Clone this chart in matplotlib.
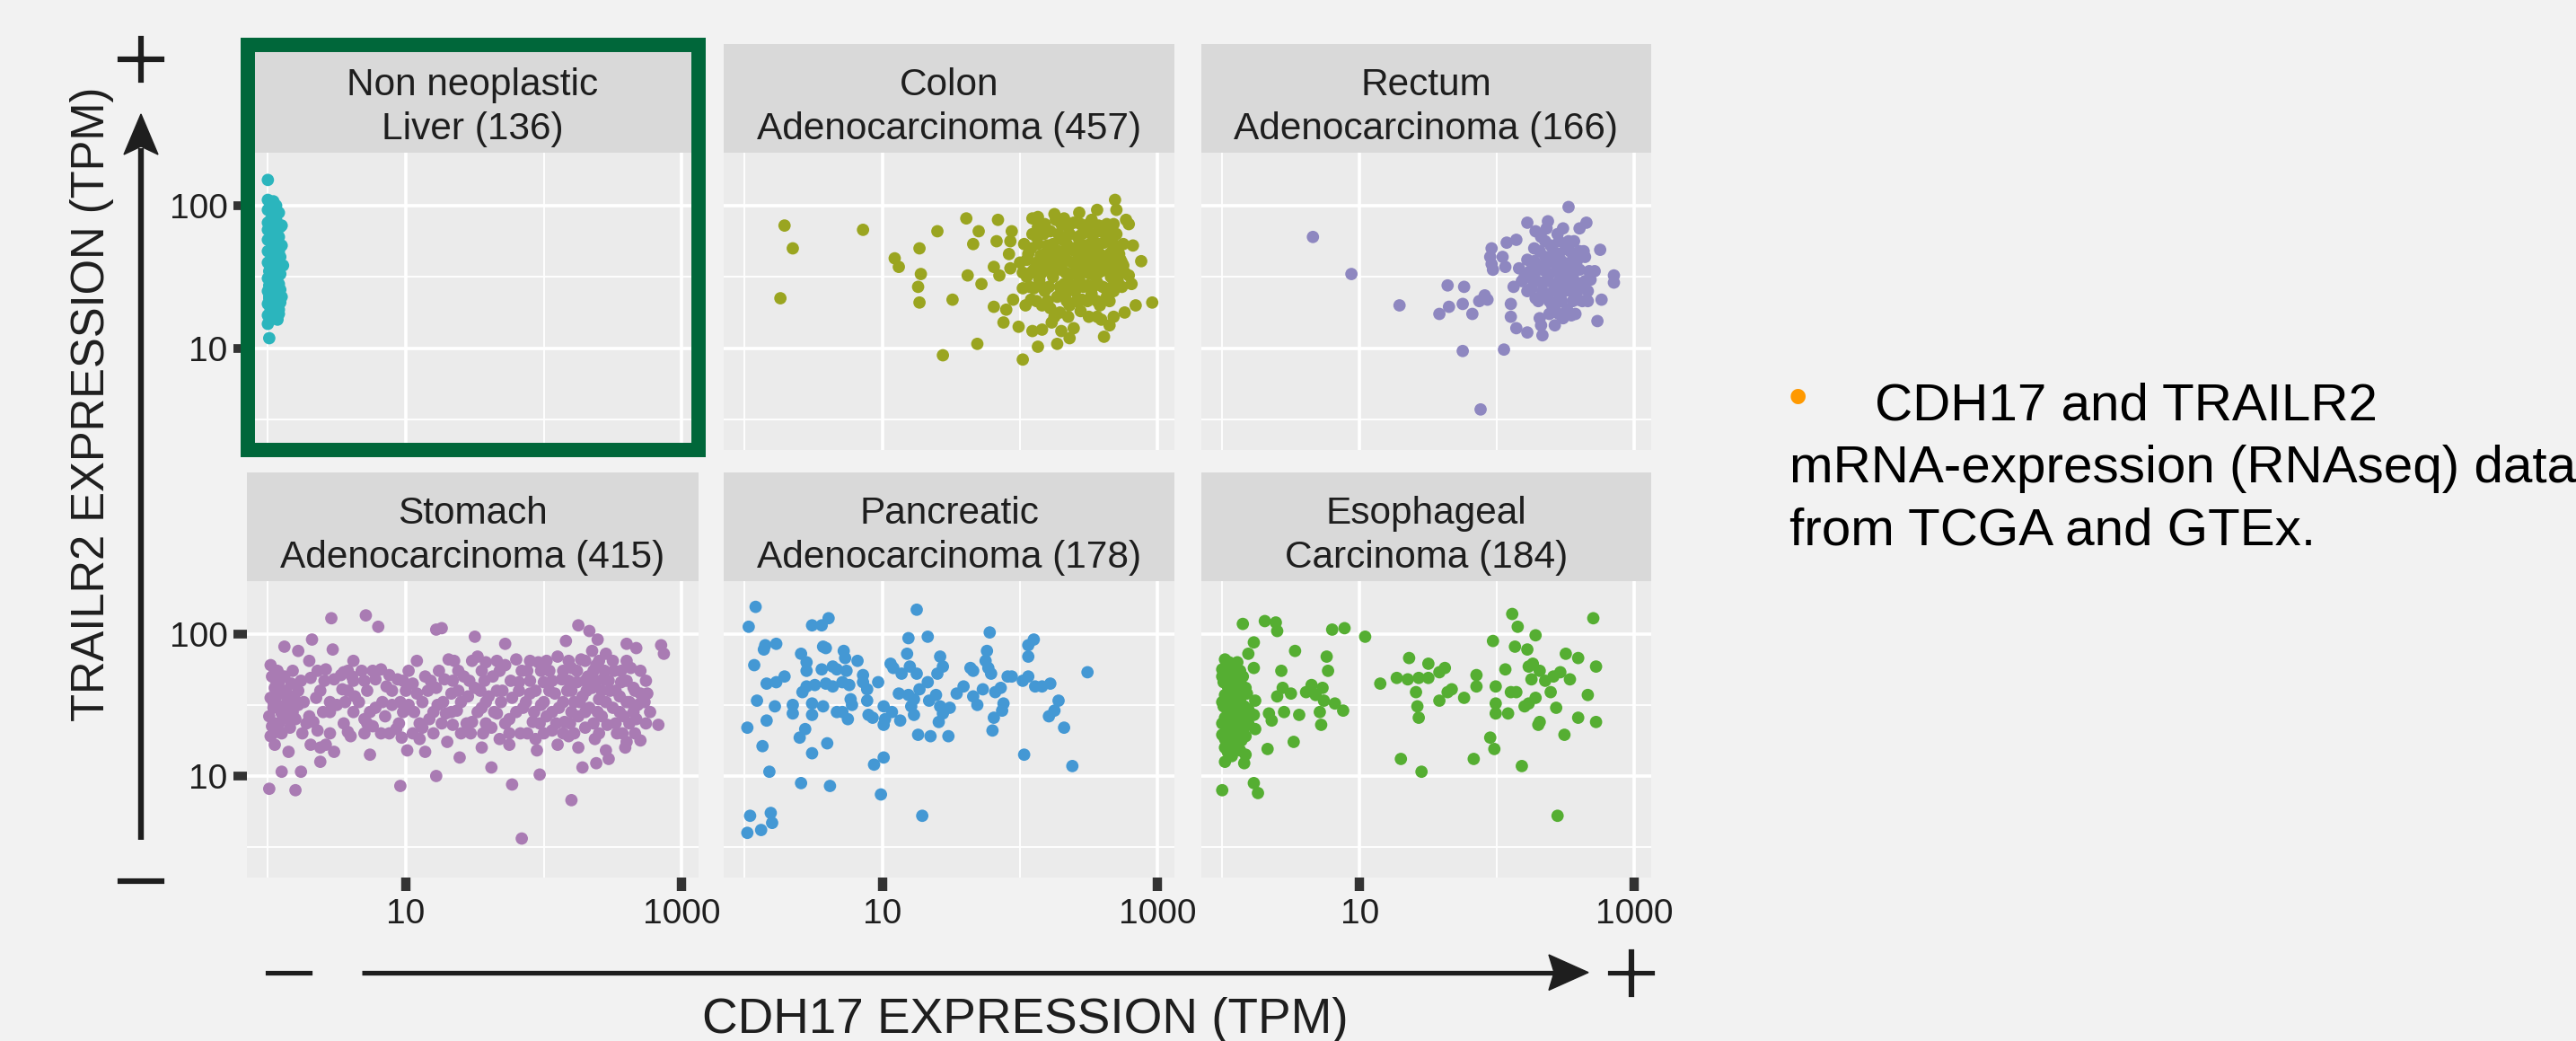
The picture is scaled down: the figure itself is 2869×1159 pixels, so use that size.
import matplotlib

matplotlib.use("Agg")
import matplotlib.pyplot as plt
import matplotlib.patheffects as pe
import numpy as np
from matplotlib.lines import Line2D
from matplotlib.patches import Polygon, Rectangle
from matplotlib.ticker import FixedLocator, FixedFormatter

plt.rcParams["font.family"] = ["Liberation Sans", "DejaVu Sans"]

W, H = 2869, 1159

# values are log10(TPM): (CDH17, TRAILR2)
liver_pts = [
    (0.00, 2.18), (0.00, 2.04), (0.04, 2.03), (0.00, 1.97), (0.04, 1.96), (0.05, 1.93),
    (0.02, 1.90), (0.00, 1.88), (0.09, 1.85), (0.04, 1.87), (0.00, 1.83), (0.06, 1.80),
    (0.05, 1.79), (0.00, 1.76), (0.05, 1.74), (0.03, 1.72), (0.07, 1.70), (0.00, 1.68),
    (0.06, 1.66), (0.03, 1.65), (0.07, 1.63), (0.09, 1.64), (0.02, 1.62), (0.00, 1.60),
    (0.04, 1.58), (0.06, 1.56), (0.01, 1.54), (0.04, 1.53), (0.03, 1.51), (0.00, 1.49),
    (0.04, 1.49), (0.07, 1.46), (0.02, 1.45), (0.01, 1.44), (0.05, 1.42), (0.09, 1.41),
    (0.03, 1.42), (0.00, 1.40), (0.06, 1.38), (0.01, 1.36), (0.04, 1.34), (0.02, 1.33),
    (0.00, 1.31), (0.05, 1.30), (0.06, 1.28), (0.08, 1.27), (0.02, 1.27), (0.03, 1.25),
    (0.08, 1.24), (0.00, 1.23), (0.05, 1.22), (0.02, 1.20), (0.00, 1.17), (0.01, 1.07),
    (0.08, 1.95), (0.10, 1.86), (0.08, 1.78), (0.10, 1.72), (0.08, 1.68), (0.11, 1.58),
    (0.09, 1.52), (0.08, 1.45), (0.10, 1.36), (0.09, 1.32), (0.07, 1.20), (0.06, 1.90),
    (0.07, 1.60), (0.06, 1.50), (0.02, 1.58), (0.04, 1.69), (0.03, 1.78), (0.02, 1.84),
    (0.05, 1.26), (0.03, 1.39), (0.06, 1.34), (0.02, 1.99), (0.06, 2.00), (0.04, 1.47),
    (0.01, 1.35),
]

colon_pts = [
    (0.29, 1.86), (0.35, 1.70), (0.26, 1.35), (0.86, 1.83), (1.09, 1.63), (1.12, 1.57),
    (1.27, 1.70), (1.40, 1.82), (1.28, 1.52), (1.26, 1.43), (1.27, 1.32), (1.51, 1.34),
    (1.61, 1.91), (1.70, 1.82), (1.66, 1.73), (1.62, 1.51), (1.72, 1.45), (1.84, 1.90),
    (1.94, 1.82), (1.83, 1.75), (1.93, 1.75), (1.92, 1.66), (1.81, 1.57), (1.85, 1.51),
    (1.93, 1.56), (1.81, 1.29), (1.90, 1.27), (1.88, 1.18), (1.69, 1.03), (1.44, 0.95),
    (2.02, 0.92), (2.13, 1.01), (2.27, 1.03), (2.36, 1.07), (2.30, 1.12), (2.61, 1.08),
    (2.65, 1.16), (2.68, 1.22), (2.59, 1.20), (2.76, 1.25), (2.84, 1.30), (2.96, 1.32),
    (2.81, 1.45), (2.79, 1.51), (2.88, 1.61), (2.82, 1.72), (2.75, 1.58), (2.79, 1.87),
    (2.69, 2.04), (2.70, 1.97), (2.56, 1.97), (2.43, 1.95), (2.25, 1.94), (2.32, 1.91),
    (2.09, 1.91), (2.13, 1.92), (2.18, 1.87), (1.99, 1.15), (2.09, 1.12), (2.16, 1.13),
    (2.23, 1.18), (2.39, 1.14), (2.02, 1.42), (1.95, 1.34), (2.04, 1.30), (2.08, 1.34),
    (2.73, 1.62), (2.71, 1.68), (2.77, 1.90),
    (2.05, 1.62), (2.08, 1.70), (2.10, 1.55), (2.12, 1.78), (2.14, 1.48), (2.15, 1.65),
    (2.18, 1.40), (2.19, 1.58), (2.20, 1.72), (2.22, 1.82), (2.24, 1.50), (2.25, 1.63),
    (2.27, 1.36), (2.28, 1.68), (2.30, 1.55), (2.31, 1.76), (2.32, 1.45), (2.34, 1.62),
    (2.35, 1.85), (2.36, 1.30), (2.37, 1.52), (2.38, 1.70), (2.40, 1.40), (2.41, 1.60),
    (2.42, 1.78), (2.43, 1.48), (2.44, 1.66), (2.45, 1.34), (2.46, 1.56), (2.47, 1.84),
    (2.48, 1.72), (2.49, 1.44), (2.50, 1.62), (2.51, 1.52), (2.52, 1.38), (2.53, 1.76),
    (2.54, 1.58), (2.55, 1.68), (2.56, 1.46), (2.57, 1.86), (2.58, 1.30), (2.59, 1.54),
    (2.60, 1.64), (2.61, 1.74), (2.62, 1.42), (2.63, 1.36), (2.64, 1.58), (2.65, 1.80),
    (2.66, 1.50), (2.67, 1.68), (2.68, 1.40), (2.70, 1.60), (2.71, 1.47), (2.72, 1.54),
    (2.05, 1.50), (2.10, 1.42), (2.13, 1.85), (2.16, 1.30), (2.22, 1.28), (2.26, 1.90),
    (2.33, 1.38), (2.39, 1.88), (2.29, 1.25), (2.44, 1.26), (2.52, 1.90), (2.58, 1.82),
    (2.35, 1.46), (2.47, 1.58), (2.27, 1.58), (2.40, 1.68), (2.55, 1.50), (2.62, 1.55),
    (2.12, 1.33), (2.20, 1.33), (2.34, 1.33), (2.41, 1.33), (2.49, 1.33), (2.56, 1.33),
    (2.65, 1.33), (2.07, 1.43), (2.16, 1.43), (2.21, 1.43), (2.29, 1.43), (2.38, 1.43),
    (2.46, 1.43), (2.53, 1.43), (2.60, 1.43), (2.67, 1.43), (2.74, 1.43), (2.02, 1.53),
    (2.08, 1.53), (2.16, 1.53), (2.24, 1.53), (2.33, 1.53), (2.42, 1.53), (2.49, 1.53),
    (2.57, 1.53), (2.66, 1.53), (2.76, 1.53), (2.00, 1.60), (2.12, 1.60), (2.22, 1.60),
    (2.31, 1.60), (2.38, 1.60), (2.46, 1.60), (2.53, 1.60), (2.61, 1.60), (2.68, 1.60),
    (2.74, 1.60), (2.06, 1.66), (2.18, 1.66), (2.25, 1.66), (2.32, 1.66), (2.48, 1.66),
    (2.58, 1.66), (2.65, 1.66), (2.72, 1.66), (2.03, 1.73), (2.13, 1.73), (2.24, 1.73),
    (2.34, 1.73), (2.43, 1.73), (2.51, 1.73), (2.57, 1.73), (2.68, 1.73), (2.75, 1.73),
    (2.09, 1.80), (2.17, 1.80), (2.28, 1.80), (2.36, 1.80), (2.45, 1.80), (2.52, 1.80),
    (2.62, 1.80), (2.70, 1.80), (2.16, 1.87), (2.30, 1.87), (2.44, 1.87), (2.50, 1.87),
    (2.63, 1.87), (2.68, 1.87), (2.25, 1.22), (2.35, 1.22), (2.50, 1.22), (2.56, 1.22),
]

rectum_pts = [
    (0.66, 1.78), (0.94, 1.52), (1.29, 1.30), (1.64, 1.44), (1.76, 1.43), (1.65, 1.29),
    (1.58, 1.24), (1.75, 1.31), (1.82, 1.24), (1.87, 1.33), (1.91, 1.37), (1.93, 1.34),
    (1.75, 0.98), (2.05, 0.99), (1.88, 0.57), (2.52, 1.99), (2.22, 1.88), (2.37, 1.89),
    (2.65, 1.88), (2.07, 1.74), (2.14, 1.76), (1.96, 1.70), (1.95, 1.64), (2.04, 1.64),
    (1.96, 1.59), (1.97, 1.55), (2.06, 1.57), (2.75, 1.69), (2.85, 1.51), (2.85, 1.46),
    (2.76, 1.34), (2.73, 1.19), (2.71, 1.54), (2.68, 1.48), (2.64, 1.64), (2.10, 1.31),
    (2.10, 1.22), (2.14, 1.14), (2.22, 1.11), (2.33, 1.09), (2.32, 1.16), (2.42, 1.16),
    (2.48, 1.21), (2.54, 1.23), (2.31, 1.21), (2.12, 1.43), (2.16, 1.56), (2.66, 1.33),
    (2.60, 1.84),
    (2.20, 1.50), (2.22, 1.62), (2.25, 1.42), (2.27, 1.70), (2.28, 1.35), (2.30, 1.55),
    (2.32, 1.78), (2.33, 1.46), (2.35, 1.64), (2.36, 1.38), (2.38, 1.52), (2.39, 1.72),
    (2.40, 1.30), (2.41, 1.60), (2.43, 1.44), (2.44, 1.80), (2.45, 1.66), (2.46, 1.36),
    (2.47, 1.54), (2.49, 1.48), (2.50, 1.70), (2.51, 1.27), (2.52, 1.58), (2.54, 1.40),
    (2.55, 1.62), (2.56, 1.75), (2.58, 1.46), (2.59, 1.34), (2.60, 1.55), (2.62, 1.42),
    (2.63, 1.68), (2.28, 1.82), (2.36, 1.84), (2.44, 1.32), (2.53, 1.50), (2.48, 1.84),
    (2.26, 1.48), (2.57, 1.66), (2.41, 1.40), (2.34, 1.58),
    (2.30, 1.33), (2.38, 1.33), (2.47, 1.33), (2.55, 1.33), (2.62, 1.33), (2.22, 1.40),
    (2.33, 1.40), (2.49, 1.40), (2.58, 1.40), (2.66, 1.40), (2.18, 1.47), (2.29, 1.47),
    (2.37, 1.47), (2.45, 1.47), (2.52, 1.47), (2.64, 1.47), (2.24, 1.54), (2.35, 1.54),
    (2.43, 1.54), (2.57, 1.54), (2.67, 1.54), (2.27, 1.61), (2.38, 1.61), (2.47, 1.61),
    (2.58, 1.61), (2.31, 1.68), (2.41, 1.68), (2.53, 1.68), (2.60, 1.68), (2.35, 1.75),
    (2.45, 1.75), (2.52, 1.75), (2.38, 1.24), (2.45, 1.24), (2.57, 1.24),
]

stomach_pts = [
    (0.46, 2.11), (0.71, 2.13), (0.80, 2.05), (0.12, 1.91), (0.22, 1.88), (0.32, 1.96),
    (0.47, 1.89), (1.22, 2.03), (1.26, 2.04), (1.50, 1.98), (1.72, 1.93), (2.25, 2.06),
    (2.33, 2.02), (2.39, 1.96), (2.16, 1.95), (2.60, 1.93), (2.67, 1.90), (2.85, 1.92),
    (2.87, 1.86), (2.83, 1.36), (2.70, 1.25), (2.75, 1.58), (0.01, 0.91), (0.20, 0.90),
    (0.10, 1.03), (0.24, 1.03), (0.38, 1.10), (0.96, 0.93), (1.22, 1.00), (1.77, 0.94),
    (1.97, 1.01), (2.20, 0.83), (1.84, 0.56), (2.28, 1.06), (2.38, 1.09), (2.47, 1.12),
    (1.62, 1.06), (1.39, 1.13), (0.74, 1.15), (1.14, 1.17), (1.01, 1.18), (0.15, 1.17),
    (0.48, 1.17),
    (0.02, 1.78), (0.03, 1.70), (0.05, 1.62), (0.02, 1.55), (0.04, 1.48), (0.01, 1.42),
    (0.03, 1.35), (0.02, 1.28), (0.07, 1.74), (0.08, 1.66), (0.09, 1.58), (0.07, 1.50),
    (0.10, 1.44), (0.08, 1.37), (0.06, 1.31), (0.12, 1.70), (0.13, 1.60), (0.14, 1.52),
    (0.12, 1.46), (0.15, 1.40), (0.17, 1.65), (0.19, 1.56), (0.18, 1.48), (0.22, 1.50),
    (0.16, 1.34), (0.05, 1.22), (0.20, 1.40), (0.25, 1.30), (0.30, 1.42), (0.33, 1.38),
    (0.36, 1.32), (0.31, 1.22), (0.38, 1.20), (0.42, 1.22), (0.42, 1.75), (0.41, 1.67),
    (0.31, 1.69), (0.48, 1.68), (0.53, 1.71), (0.55, 1.73), (0.61, 1.70), (0.68, 1.74),
    (0.63, 1.56), (0.54, 1.61), (0.66, 1.52), (0.58, 1.31), (0.60, 1.28), (0.78, 1.68),
    (0.82, 1.75), (0.88, 1.71), (0.94, 1.68), (0.86, 1.63), (0.78, 1.48), (0.85, 1.42),
    (0.90, 1.50), (0.76, 1.35), (0.82, 1.30), (0.93, 1.33), (0.97, 1.27), (1.02, 1.50),
    (1.05, 1.65), (1.08, 1.58), (1.14, 1.70), (1.12, 1.34), (1.17, 1.40), (1.22, 1.62),
    (1.23, 1.50), (1.28, 1.68), (1.29, 1.44), (1.31, 1.82), (1.33, 1.58), (1.34, 1.36),
    (1.37, 1.46), (1.40, 1.30), (1.42, 1.70), (1.45, 1.56), (1.48, 1.38), (1.50, 1.62),
    (1.52, 1.84), (1.55, 1.48), (1.58, 1.80), (1.60, 1.56), (1.62, 1.34), (1.63, 1.70),
    (1.66, 1.44), (1.68, 1.26), (1.70, 1.60), (1.72, 1.78), (1.75, 1.40), (1.77, 1.55),
    (1.80, 1.82), (1.82, 1.66), (1.83, 1.30), (1.85, 1.48), (1.88, 1.74), (1.90, 1.58),
    (1.92, 1.38), (1.94, 1.26), (1.96, 1.80), (1.98, 1.50), (2.00, 1.66), (2.02, 1.42),
    (2.04, 1.74), (2.06, 1.32), (2.08, 1.58), (2.10, 1.84), (2.11, 1.48), (2.13, 1.68),
    (2.15, 1.38), (2.17, 1.60), (2.18, 1.28), (2.20, 1.76), (2.22, 1.52), (2.24, 1.66),
    (2.25, 1.42), (2.27, 1.82), (2.28, 1.56), (2.30, 1.34), (2.32, 1.70), (2.33, 1.48),
    (2.35, 1.62), (2.37, 1.26), (2.38, 1.78), (2.40, 1.54), (2.42, 1.42), (2.43, 1.68),
    (2.45, 1.86), (2.46, 1.36), (2.48, 1.60), (2.50, 1.48), (2.51, 1.74), (2.53, 1.30),
    (2.55, 1.56), (2.56, 1.66), (2.58, 1.42), (2.60, 1.24), (2.62, 1.52), (2.63, 1.76),
    (2.65, 1.62), (2.67, 1.40), (2.68, 1.50), (2.70, 1.58), (2.25, 1.20), (2.10, 1.22),
    (1.95, 1.18), (2.45, 1.18), (2.59, 1.20), (1.55, 1.20), (1.30, 1.24), (1.10, 1.26),
    (0.70, 1.40), (0.45, 1.45), (0.35, 1.55), (0.50, 1.50), (1.75, 1.22), (2.35, 1.88),
    (0.10, 1.30), (0.45, 1.30), (0.70, 1.30), (0.88, 1.30), (1.05, 1.30), (1.20, 1.30),
    (1.47, 1.30), (1.56, 1.30), (1.75, 1.30), (1.88, 1.30), (2.00, 1.30), (2.14, 1.30),
    (2.22, 1.30), (2.40, 1.30), (2.57, 1.30), (2.66, 1.30),
    (0.05, 1.37), (0.28, 1.37), (0.55, 1.37), (0.72, 1.37), (0.95, 1.37), (1.10, 1.37),
    (1.26, 1.37), (1.44, 1.37), (1.58, 1.37), (1.72, 1.37), (1.97, 1.37), (2.09, 1.37),
    (2.19, 1.37), (2.36, 1.37), (2.52, 1.37), (2.62, 1.37), (2.74, 1.37),
    (0.18, 1.45), (0.40, 1.45), (0.62, 1.45), (0.74, 1.45), (0.98, 1.45), (1.06, 1.45),
    (1.20, 1.45), (1.33, 1.45), (1.52, 1.45), (1.64, 1.45), (1.80, 1.45), (1.93, 1.45),
    (2.06, 1.45), (2.20, 1.45), (2.30, 1.45), (2.39, 1.45), (2.55, 1.45), (2.65, 1.45),
    (2.77, 1.45),
    (0.04, 1.52), (0.26, 1.52), (0.45, 1.52), (0.56, 1.52), (0.83, 1.52), (0.96, 1.52),
    (1.12, 1.52), (1.27, 1.52), (1.40, 1.52), (1.58, 1.52), (1.69, 1.52), (1.87, 1.52),
    (2.00, 1.52), (2.14, 1.52), (2.26, 1.52), (2.45, 1.52), (2.60, 1.52), (2.73, 1.52),
    (0.10, 1.60), (0.22, 1.60), (0.38, 1.60), (0.58, 1.60), (0.72, 1.60), (0.90, 1.60),
    (1.00, 1.60), (1.16, 1.60), (1.38, 1.60), (1.54, 1.60), (1.66, 1.60), (1.82, 1.60),
    (1.94, 1.60), (2.04, 1.60), (2.20, 1.60), (2.31, 1.60), (2.42, 1.60), (2.52, 1.60),
    (2.66, 1.60),
    (0.06, 1.67), (0.24, 1.67), (0.62, 1.67), (0.70, 1.67), (0.98, 1.67), (1.18, 1.67),
    (1.34, 1.67), (1.46, 1.67), (1.57, 1.67), (1.76, 1.67), (1.90, 1.67), (2.06, 1.67),
    (2.18, 1.67), (2.30, 1.67), (2.38, 1.67), (2.47, 1.67), (2.60, 1.67), (2.74, 1.67),
    (0.18, 1.74), (0.36, 1.74), (0.58, 1.74), (0.76, 1.74), (1.02, 1.74), (1.24, 1.74),
    (1.38, 1.74), (1.55, 1.74), (1.68, 1.74), (1.84, 1.74), (1.98, 1.74), (2.14, 1.74),
    (2.24, 1.74), (2.36, 1.74), (2.44, 1.74), (2.56, 1.74), (2.70, 1.74),
    (0.30, 1.81), (0.62, 1.81), (1.08, 1.81), (1.35, 1.81), (1.48, 1.81), (1.66, 1.81),
    (1.90, 1.81), (2.02, 1.81), (2.18, 1.81), (2.30, 1.81), (2.40, 1.81), (2.50, 1.81),
    (2.60, 1.81),
]

pancreas_pts = [
    (0.08, 2.19), (0.03, 2.05), (0.15, 1.92), (0.14, 1.89), (0.23, 1.93), (0.07, 1.78),
    (0.16, 1.65), (0.23, 1.66), (0.29, 1.70), (0.09, 1.53), (0.22, 1.49), (0.16, 1.39),
    (0.02, 1.34), (0.13, 1.21), (0.18, 1.03), (0.41, 0.95), (0.62, 0.93), (0.04, 0.72),
    (0.19, 0.74), (0.20, 0.67), (0.12, 0.62), (0.02, 0.60), (0.49, 2.06), (0.56, 2.06),
    (0.61, 2.11), (0.57, 1.91), (0.59, 1.90), (0.41, 1.86), (0.45, 1.80), (0.45, 1.74),
    (0.56, 1.75), (0.64, 1.77), (0.67, 1.75), (0.72, 1.88), (0.73, 1.83), (0.82, 1.81),
    (0.74, 1.74), (0.42, 1.59), (0.45, 1.63), (0.51, 1.64), (0.59, 1.65), (0.64, 1.63),
    (0.71, 1.66), (0.76, 1.64), (0.77, 1.54), (0.78, 1.50), (0.86, 1.71), (0.86, 1.66),
    (0.89, 1.61), (0.97, 1.66), (0.35, 1.50), (0.35, 1.44), (0.49, 1.51), (0.49, 1.43),
    (0.57, 1.49), (0.67, 1.45), (0.71, 1.45), (0.75, 1.40), (0.44, 1.33), (0.40, 1.27),
    (0.60, 1.23), (0.49, 1.16), (0.89, 1.53), (0.90, 1.43), (0.93, 1.41), (1.01, 1.49),
    (1.02, 1.40), (1.01, 1.36), (1.07, 1.45), (1.13, 1.39), (0.94, 1.08), (1.01, 1.13),
    (0.99, 0.87), (1.29, 0.72), (1.25, 2.17), (1.19, 1.97), (1.33, 1.98), (1.18, 1.86),
    (1.06, 1.79), (1.08, 1.76), (1.14, 1.72), (1.20, 1.77), (1.25, 1.72), (1.12, 1.58),
    (1.19, 1.57), (1.23, 1.54), (1.21, 1.49), (1.23, 1.43), (1.27, 1.61), (1.33, 1.66),
    (1.34, 1.53), (1.39, 1.57), (1.42, 1.84), (1.44, 1.77), (1.40, 1.72), (1.42, 1.49),
    (1.44, 1.44), (1.49, 1.48), (1.41, 1.38), (1.26, 1.29), (1.35, 1.28), (1.48, 1.28),
    (1.54, 1.58), (1.59, 1.63), (1.64, 1.76), (1.66, 1.74), (1.66, 1.56), (1.69, 1.50),
    (1.78, 2.01), (1.76, 1.88), (1.75, 1.81), (1.77, 1.76), (1.73, 1.61), (1.79, 1.72),
    (1.82, 1.59), (1.86, 1.62), (1.88, 1.51), (1.87, 1.46), (1.81, 1.41), (1.80, 1.32),
    (1.91, 1.70), (1.94, 1.70), (2.10, 1.96), (2.06, 1.92), (2.06, 1.84), (2.02, 1.67),
    (2.06, 1.70), (2.11, 1.63), (2.16, 1.63), (2.22, 1.65), (2.28, 1.53), (2.25, 1.46),
    (2.21, 1.42), (2.32, 1.34), (2.03, 1.15), (2.38, 1.07), (2.49, 1.73),
]

esoph_pts = [
    (0.00, 0.90), (0.23, 0.95), (0.26, 0.88), (0.02, 1.10), (0.16, 1.09), (0.17, 1.15),
    (0.33, 1.19), (0.52, 1.24), (0.15, 2.07), (0.31, 2.09), (0.39, 2.08), (0.40, 2.02),
    (0.23, 1.94), (0.19, 1.86), (0.53, 1.88), (0.80, 2.03), (0.89, 2.04), (1.04, 1.98),
    (0.76, 1.84), (0.77, 1.74), (0.43, 1.74), (0.23, 1.76), (0.40, 1.56), (0.44, 1.62),
    (0.50, 1.58), (0.61, 1.59), (0.65, 1.64), (0.68, 1.57), (0.73, 1.62), (0.74, 1.53),
    (0.82, 1.51), (0.88, 1.46), (0.71, 1.45), (0.72, 1.36), (0.45, 1.45), (0.56, 1.43),
    (0.34, 1.44), (0.36, 1.39), (0.24, 1.53), (0.24, 1.33), (0.23, 1.43),
    (0.02, 1.82), (0.05, 1.80), (0.08, 1.78), (0.03, 1.74), (0.06, 1.70), (0.10, 1.72),
    (0.01, 1.66), (0.04, 1.63), (0.08, 1.60), (0.12, 1.65), (0.02, 1.57), (0.06, 1.54),
    (0.10, 1.52), (0.14, 1.56), (0.01, 1.49), (0.04, 1.46), (0.09, 1.44), (0.13, 1.47),
    (0.02, 1.41), (0.06, 1.38), (0.11, 1.36), (0.03, 1.33), (0.07, 1.30), (0.12, 1.28),
    (0.02, 1.26), (0.05, 1.22), (0.09, 1.20), (0.04, 1.17), (0.15, 1.40), (0.17, 1.62),
    (0.15, 1.70), (0.19, 1.47), (0.14, 1.25), (0.16, 1.34),
    (0.00, 1.75), (0.11, 1.80), (0.13, 1.74), (0.00, 1.70), (0.09, 1.67), (0.05, 1.58),
    (0.12, 1.59), (0.00, 1.52), (0.07, 1.48), (0.11, 1.44), (0.05, 1.42), (0.00, 1.37),
    (0.09, 1.33), (0.13, 1.31), (0.00, 1.29), (0.08, 1.25), (0.11, 1.22), (0.02, 1.20),
    (0.07, 1.14), (0.13, 1.18), (0.16, 1.49), (0.18, 1.58), (0.20, 1.44), (0.17, 1.28),
    (0.19, 1.37),
    (1.15, 1.65), (1.27, 1.69), (1.35, 1.68), (1.43, 1.69), (1.50, 1.69), (1.36, 1.83),
    (1.50, 1.79), (1.58, 1.73), (1.62, 1.76), (1.41, 1.59), (1.42, 1.49), (1.43, 1.41),
    (1.58, 1.53), (1.64, 1.59), (1.67, 1.61), (1.76, 1.55), (1.85, 1.71), (1.85, 1.63),
    (1.30, 1.12), (1.45, 1.03), (1.83, 1.12), (1.95, 1.27), (1.98, 1.19), (1.97, 1.95),
    (2.11, 2.14), (2.15, 2.05), (2.28, 1.99), (2.13, 1.91), (2.22, 1.89), (2.06, 1.75),
    (1.99, 1.63), (1.99, 1.51), (1.99, 1.44), (2.08, 1.44), (2.10, 1.59), (2.14, 1.59),
    (2.20, 1.49), (2.23, 1.51), (2.28, 1.55), (2.25, 1.68), (2.23, 1.77), (2.26, 1.79),
    (2.31, 1.74), (2.35, 1.67), (2.39, 1.59), (2.41, 1.70), (2.46, 1.73), (2.50, 1.86),
    (2.53, 1.68), (2.59, 1.83), (2.70, 2.11), (2.72, 1.77), (2.66, 1.57), (2.72, 1.38),
    (2.59, 1.41), (2.49, 1.29), (2.43, 1.48), (2.30, 1.36), (2.31, 1.38), (2.18, 1.07),
    (2.44, 0.72),
]

panel_titles = [
    "Non neoplastic\nLiver (136)",
    "Colon\nAdenocarcinoma (457)",
    "Rectum\nAdenocarcinoma (166)",
    "Stomach\nAdenocarcinoma (415)",
    "Pancreatic\nAdenocarcinoma (178)",
    "Esophageal\nCarcinoma (184)",
]
panel_colors = ["#2BB5BD", "#9AA520", "#8E87C0", "#A97BB3", "#4498D4", "#55AE32"]
panel_data = [liver_pts, colon_pts, rectum_pts, stomach_pts, pancreas_pts, esoph_pts]

x_major = [10, 1000]
x_minor = [1, 100]
y_major = [10, 100]
y_minor = [10 ** 0.5, 10 ** 1.5]
x_lim = (0.705, 1322)
y_lim = (1.93, 235)

BG = "#F2F2F2"
PANEL_BG = "#EBEBEB"
STRIP_BG = "#D9D9D9"
DARK = "#1E1E1E"
TICK = "#333333"
FRAME_GREEN = "#00673A"


def fx(px):
    return px / W


def fy(py):
    return 1 - py / H


def rect(x0, x1, y0, y1):
    # pixel box (top y0, bottom y1) -> figure fraction [l, b, w, h]
    return [fx(x0), fy(y1), (x1 - x0) / W, (y1 - y0) / H]


fig = plt.figure(figsize=(W / 100, H / 100), dpi=100, facecolor=BG)

cols = [(275, 778), (806, 1308), (1338, 1839)]
rows = [(170, 501), (647, 977)]
strips = [(49, 170), (526, 647)]

for i, (title, color, pts) in enumerate(zip(panel_titles, panel_colors, panel_data)):
    r, c = divmod(i, 3)
    x0, x1 = cols[c]
    ax = fig.add_axes(rect(x0, x1, *rows[r]))
    ax.set_facecolor(PANEL_BG)
    ax.set_xscale("log")
    ax.set_yscale("log")
    ax.set_xlim(*x_lim)
    ax.set_ylim(*y_lim)
    for s in ax.spines.values():
        s.set_visible(False)

    lx, ly = zip(*pts)
    ax.scatter(10 ** np.array(lx), 10 ** np.array(ly), s=98, color=color,
               edgecolors="none", zorder=3)

    ax.xaxis.set_major_locator(FixedLocator(x_major))
    ax.xaxis.set_minor_locator(FixedLocator(x_minor))
    ax.yaxis.set_major_locator(FixedLocator(y_major))
    ax.yaxis.set_minor_locator(FixedLocator(y_minor))
    ax.xaxis.set_major_formatter(FixedFormatter(["10", "1000"]))
    ax.yaxis.set_major_formatter(FixedFormatter(["10", "100"]))
    ax.xaxis.set_minor_formatter(FixedFormatter(["", ""]))
    ax.yaxis.set_minor_formatter(FixedFormatter(["", ""]))
    ax.grid(which="major", color="white", lw=2.6)
    ax.grid(which="minor", color="white", lw=1.3)
    ax.set_axisbelow(True)

    ax.tick_params(which="minor", length=0)
    ax.tick_params(axis="y", which="major", length=10.5, width=7, color=TICK,
                   pad=5, labelsize=28, labelcolor=DARK,
                   left=(c == 0), labelleft=(c == 0))
    ax.tick_params(axis="x", which="major", length=10.5, width=7.5, color=TICK,
                   pad=6, labelsize=28, labelcolor=DARK,
                   bottom=(r == 1), labelbottom=(r == 1))

    sax = fig.add_axes(rect(x0, x1, *strips[r]))
    sax.set_facecolor(STRIP_BG)
    sax.set_xticks([])
    sax.set_yticks([])
    for s in sax.spines.values():
        s.set_visible(False)
    sax.text(0.5, 0.42, title, ha="center", va="center", fontsize=30.5,
             color=DARK, linespacing=1.28, transform=sax.transAxes)

# green highlight frame around the liver panel
fig.add_artist(Rectangle((fx(276), fy(500.5)), (777.5 - 276) / W, (500.5 - 49.5) / H,
                         transform=fig.transFigure, fill=False,
                         edgecolor=FRAME_GREEN, lw=11.5, joinstyle="miter", zorder=20))

# axis arrows
fig.add_artist(Line2D([fx(157), fx(157)], [fy(935), fy(165)], lw=4.6, color=DARK,
                      solid_capstyle="butt", transform=fig.transFigure))
fig.add_artist(Polygon([(fx(157), fy(127)), (fx(138), fy(172)), (fx(157), fy(163)),
                        (fx(176), fy(172))], closed=True, color=DARK,
                       transform=fig.transFigure))
fig.add_artist(Line2D([fx(403), fx(1735)], [fy(1082.7), fy(1082.7)], lw=3.8, color=DARK,
                      solid_capstyle="butt", transform=fig.transFigure))
fig.add_artist(Polygon([(fx(1769), fy(1082.7)), (fx(1725), fy(1063)), (fx(1731), fy(1082.7)),
                        (fx(1725), fy(1102.4))], closed=True, color=DARK,
                       transform=fig.transFigure))

# thin the sign glyphs a little with a background-coloured outline
thin = [pe.Stroke(linewidth=1.3, foreground=BG)]


def sign(txt, cx, cy, size=80):
    em = size * 100 / 72
    fig.text(fx(cx), fy(cy + 0.34 * em), txt, ha="center", va="baseline",
             fontsize=size, color=DARK, path_effects=thin)


sign("+", 157, 65)
sign("\u2212", 157, 980)
sign("\u2212", 322, 1082.7)
sign("+", 1817, 1082.7)

fig.text(fx(103), fy(450), "TRAILR2 EXPRESSION (TPM)", rotation=90, ha="center",
         va="center", fontsize=36.5, color=DARK)
fig.text(fx(1142), fy(1150), "CDH17 EXPRESSION (TPM)", ha="center", va="baseline",
         fontsize=39.5, color=DARK)

# note on the right
fig.text(fx(2002), fy(446), "\u2022", ha="center", va="center", fontsize=44,
         color="#FF9900")
fig.text(fx(2088), fy(467), "CDH17 and TRAILR2", ha="left", va="baseline",
         fontsize=42, color="black")
fig.text(fx(1993), fy(537), "mRNA-expression (RNAseq) data", ha="left", va="baseline",
         fontsize=42, color="black")
fig.text(fx(1993), fy(607), "from TCGA and GTEx.", ha="left", va="baseline",
         fontsize=42, color="black")

fig.savefig("out.png", dpi=100, facecolor=BG)
